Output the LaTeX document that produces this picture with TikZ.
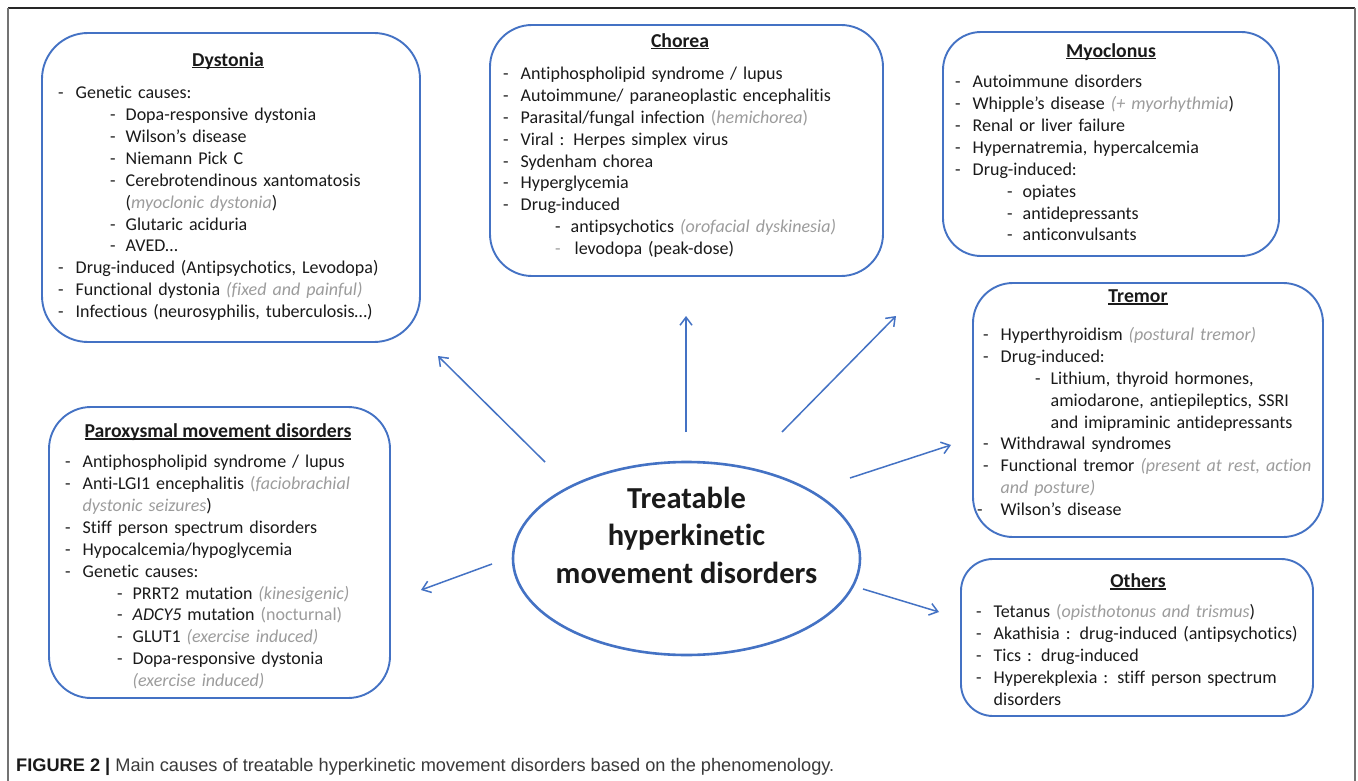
\documentclass[tikz,border=0pt]{standalone}
\usepackage{fontspec}
\setmainfont[Ligatures={TeX,NoCommon}]{Carlito}
\newfontfamily\capfont{Liberation Sans}
\usetikzlibrary{arrows.meta,shapes.geometric}
\definecolor{bblue}{HTML}{4472C4}
\definecolor{gtxt}{HTML}{9C9C9C}
\definecolor{ktxt}{HTML}{1A1A1A}
\definecolor{captxt}{HTML}{3A3A3A}
\newcommand\gi[1]{{\color{gtxt}\itshape #1}}
\newcommand\gu[1]{{\color{gtxt}#1}}
\newcommand\uln[1]{\setbox0\hbox{#1}\rlap{\rule[-2.2pt]{\wd0}{1.1pt}}\box0}
\newcommand\Ia[1]{\makebox[17.5pt][l]{-}#1}
\newcommand\Ib[1]{\hspace*{52pt}\makebox[15.5pt][l]{-}#1}
\newcommand\Ca[1]{\hspace*{17.5pt}#1}
\newcommand\Cb[1]{\hspace*{67.5pt}#1}
\begin{document}
\begin{tikzpicture}[x=1pt,y=-1pt,
  box/.style={draw=bblue, line width=1.9pt, rounded corners=#1, inner sep=0pt},
  lst/.style={anchor=north west, inner sep=0pt, text width=420pt, align=left,
    font=\fontsize{18}{21.85}\selectfont, text=ktxt},
  ttl/.style={anchor=base, inner sep=0pt, font=\fontsize{19.7}{22}\selectfont\bfseries, text=ktxt},
  arr/.style={draw=bblue, line width=1.5pt, -{Straight Barb[length=8pt,width=12pt]}},
  frm/.style={line width=1.6pt}
]
\useasboundingbox (0,0) rectangle (1358,781);
\fill[white] (0,0) rectangle (1358,781);
% outer frame
\draw[frm, black!85] (8,8) -- (1355,8);
\draw[frm, black!55] (8,8) -- (8,781);
\draw[frm, black!55] (1355,8) -- (1355,781);

% boxes
\node[box=46pt, minimum width=378pt, minimum height=309pt] (bdys) at (231,187.5) {};
\node[box=42pt, minimum width=393pt, minimum height=251pt] (bcho) at (686.5,150.5) {};
\node[box=38pt, minimum width=336pt, minimum height=224pt] (bmyo) at (1111,144) {};
\node[box=40pt, minimum width=350pt, minimum height=254pt] (btre) at (1148,410) {};
\node[box=32pt, minimum width=352pt, minimum height=157pt] (both) at (1137,637.5) {};
\node[box=42pt, minimum width=341pt, minimum height=291pt] (bpar) at (219.5,552.5) {};

% titles
\node[ttl] (tdys) at (228,66.3) {\uln{Dystonia}};
\node[ttl] (tcho) at (680,47.3) {\uln{Chorea}};
\node[ttl] (tmyo) at (1111,57.3) {\uln{Myoclonus}};
\node[ttl] (ttre) at (1138,302.3) {\uln{Tremor}};
\node[ttl] (toth) at (1138,587.3) {\uln{Others}};
\node[ttl] (tpar) at (218,437.3) {\uln{Paroxysmal movement disorders}};

% lists
\node[lst] (ldys) at (58,83.5) {\strut\Ia{Genetic causes:}\\
\Ib{Dopa-responsive dystonia}\\
\Ib{Wilson’s disease}\\
\Ib{Niemann Pick C}\\
\Ib{Cerebrotendinous xantomatosis}\\
\Cb{(\gi{myoclonic dystonia})}\\
\Ib{Glutaric aciduria}\\
\Ib{AVED…}\\
\Ia{Drug-induced (Antipsychotics, Levodopa)}\\
\Ia{Functional dystonia \gi{(fixed and painful)}}\\
\Ia{Infectious (neurosyphilis, tuberculosis…)}};

\node[lst] (lcho) at (503,64.2) {\strut\Ia{Antiphospholipid syndrome / lupus}\\
\Ia{Autoimmune/ paraneoplastic encephalitis}\\
\Ia{Parasital/fungal infection \gu{(\textit{hemichorea})}}\\
\Ia{Viral : Herpes simplex virus}\\
\Ia{Sydenham chorea}\\
\Ia{Hyperglycemia}\\
\Ia{Drug-induced}\\
\Ib{antipsychotics \gi{(orofacial dyskinesia)}}\\
\hspace*{52pt}\makebox[19.5pt][l]{\color{gtxt}-}levodopa (peak-dose)};

\node[lst] (lmyo) at (955,72.5) {\strut\Ia{Autoimmune disorders}\\
\Ia{Whipple’s disease \gi{(+ myorhythmia})}\\
\Ia{Renal or liver failure}\\
\Ia{Hypernatremia, hypercalcemia}\\
\Ia{Drug-induced:}\\
\Ib{opiates}\\
\Ib{antidepressants}\\
\Ib{anticonvulsants}};

\node[lst] (ltre) at (983,325.2) {\strut\Ia{Hyperthyroidism \gi{(postural tremor)}}\\
\Ia{Drug-induced:}\\
\Ib{Lithium, thyroid hormones,}\\
\Cb{amiodarone, antiepileptics, SSRI}\\
\Cb{and imipraminic antidepressants}\\
\Ia{Withdrawal syndromes}\\
\Ia{Functional tremor \gi{(present at rest, action}}\\
\Ca{\gi{and posture)}}\\
\hspace*{-6pt}\makebox[23.5pt][l]{-}Wilson’s disease};

\node[lst] (loth) at (976,602.5) {\strut\Ia{Tetanus \gu{(}\gi{opisthotonus and trismus})}\\
\Ia{Akathisia : drug-induced (antipsychotics)}\\
\Ia{Tics : drug-induced}\\
\Ia{Hyperekplexia : stiff person spectrum}\\
\Ca{disorders}};

\node[lst] (lpar) at (65,452.5) {\strut\Ia{Antiphospholipid syndrome / lupus}\\
\Ia{Anti-LGI1 encephalitis \gu{(}\gi{faciobrachial}}\\
\Ca{\gi{dystonic seizures})}\\
\Ia{Stiff person spectrum disorders}\\
\Ia{Hypocalcemia/hypoglycemia}\\
\Ia{Genetic causes:}\\
\Ib{PRRT2 mutation \gi{(kinesigenic)}}\\
\Ib{\textit{ADCY5} mutation \gu{(nocturnal)}}\\
\Ib{GLUT1 \gi{(exercise induced)}}\\
\Ib{Dopa-responsive dystonia}\\
\Cb{\gi{(exercise induced)}}};

% centre ellipse
\node[ellipse, draw=bblue, line width=2.6pt, minimum width=347pt, minimum height=193pt, inner sep=0pt] (ell) at (686.5,558.5) {};
\node[anchor=north, inner sep=0pt, align=center, font=\fontsize{30.5}{37.5}\selectfont\bfseries, text=ktxt] (etxt) at (686.5,481.7) {\strut Treatable\\hyperkinetic\\movement disorders};

% arrows
\coordinate (a1s) at (545,462); \coordinate (a1e) at (438,356);
\coordinate (a2s) at (686,432); \coordinate (a2e) at (686,316);
\coordinate (a3s) at (782,432); \coordinate (a3e) at (896,316);
\coordinate (a4s) at (850,478); \coordinate (a4e) at (951,445);
\coordinate (a5s) at (863,589); \coordinate (a5e) at (939,612);
\coordinate (a6s) at (492,564); \coordinate (a6e) at (421,590);
\draw[arr] (a1s) -- (a1e);
\draw[arr] (a2s) -- (a2e);
\draw[arr] (a3s) -- (a3e);
\draw[arr] (a4s) -- (a4e);
\draw[arr] (a5s) -- (a5e);
\draw[arr] (a6s) -- (a6e);

% caption
\node[anchor=base west, inner sep=0pt, font=\capfont\fontsize{18.2}{20}\selectfont, text=captxt] (cap) at (16,771) {{\bfseries\color{ktxt}FIGURE 2 |} Main causes of treatable hyperkinetic movement disorders based on the phenomenology.};
\end{tikzpicture}
\end{document}
